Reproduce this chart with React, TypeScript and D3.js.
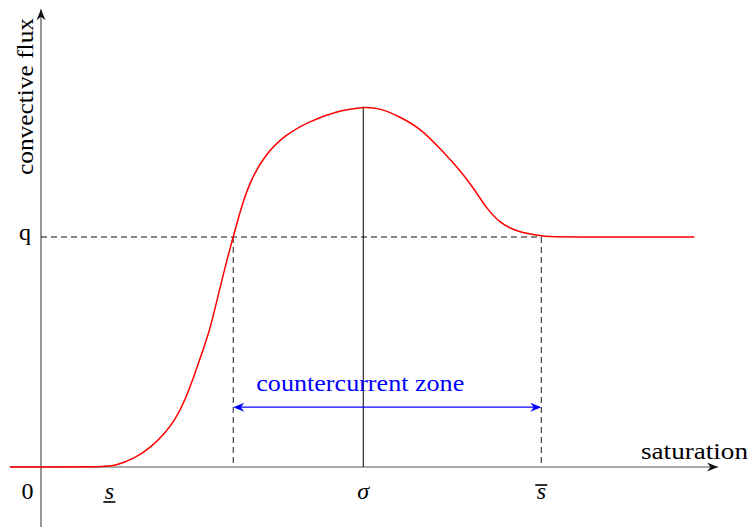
import React, { useEffect, useRef } from 'react';
import * as d3 from 'd3';

// convective flux curve (saturation in %, flux in units of q)
const satValues = [-4.6, 8.6, 10.9, 13.9, 16.35, 18.3, 19.8, 21.3, 22.75, 23.75, 24.95, 26.0, 27.45, 28.4, 29.65, 31.1, 33.1, 36.0, 39.5, 43.4, 47.6, 50.1, 53.0, 56.0, 58.9, 61.9, 63.9, 65.8, 67.8, 70.3, 73.7, 75.2, 77.1, 96.5];
const fluxValues = [0, 0, 0.004, 0.038, 0.088, 0.147, 0.204, 0.291, 0.407, 0.494, 0.596, 0.726, 0.9, 1.0, 1.139, 1.255, 1.357, 1.443, 1.501, 1.545, 1.567, 1.56, 1.523, 1.473, 1.386, 1.291, 1.212, 1.125, 1.06, 1.023, 1.006, 1.001, 1.0, 1.0];

const qLevel = 1;
const sLow = 10.1;
const sigma = 47.6;
const sLeft = 28.4;
const sHigh = 73.9;
const peakFlux = 1.567;
const zoneFlux = 0.26;

const tickNames = ['0', 's', 'σ', 's'];
const tickVals = [0, sLow, sigma, sHigh];

const W = 749;
const H = 527;
const FONT = "'Liberation Serif', 'DejaVu Serif', 'Times New Roman', serif";

function App() {
    const ref = useRef<SVGSVGElement>(null);

    useEffect(() => {
        const svg = d3.select(ref.current);
        svg.selectAll("*").remove();

        const x = d3.scaleLinear().domain([0, 100]).range([41, 718]);
        const y = d3.scaleLinear().domain([0, 2]).range([467, 7]);

        const arrowHead = (g, tx, ty, angle, color) => {
            g.append("path")
                .attr("d", "M0,0 L-11,-4.5 L-7.5,0 L-11,4.5 Z")
                .attr("fill", color)
                .attr("transform", `translate(${tx},${ty}) rotate(${angle})`);
        };

        const label = (txt, size) => svg.append("text")
            .style("font-family", FONT)
            .style("font-size", `${size}px`)
            .text(txt);

        // axes
        svg.append("line")
            .attr("x1", x(-4.6)).attr("x2", x(100))
            .attr("y1", y(0)).attr("y2", y(0))
            .attr("stroke", "#555").attr("stroke-width", 1.2);
        arrowHead(svg, x(100), y(0), 0, "#111");

        svg.append("line")
            .attr("x1", x(0)).attr("x2", x(0))
            .attr("y1", y(-0.27)).attr("y2", y(1.99))
            .attr("stroke", "#555").attr("stroke-width", 1.2);
        arrowHead(svg, x(0), y(1.99), -90, "#111");

        // guide lines
        const dash = "6,4";
        svg.append("line")
            .attr("x1", x(0)).attr("x2", x(sHigh))
            .attr("y1", y(qLevel)).attr("y2", y(qLevel))
            .attr("stroke", "#111").attr("stroke-dasharray", dash);
        [sLeft, sHigh].forEach(s => {
            svg.append("line")
                .attr("x1", x(s)).attr("x2", x(s))
                .attr("y1", y(qLevel)).attr("y2", y(0))
                .attr("stroke", "#333").attr("stroke-width", 1.1)
                .attr("stroke-dasharray", dash);
        });
        svg.append("line")
            .attr("x1", x(sigma)).attr("x2", x(sigma))
            .attr("y1", y(peakFlux)).attr("y2", y(0))
            .attr("stroke", "#000").attr("stroke-width", 1);

        // flux curve
        const line = d3.line<number>()
            .x((d, i) => x(satValues[i]))
            .y(d => y(d))
            .curve(d3.curveBasis);
        svg.append("path")
            .attr("d", line(fluxValues))
            .attr("fill", "none")
            .attr("stroke", "#ff0000")
            .attr("stroke-width", 1.5);

        // countercurrent zone arrow
        const blue = "#0000ff";
        svg.append("line")
            .attr("x1", x(sLeft) + 4).attr("x2", x(sHigh) - 4)
            .attr("y1", y(zoneFlux)).attr("y2", y(zoneFlux))
            .attr("stroke", blue).attr("stroke-width", 1.2);
        arrowHead(svg, x(sLeft), y(zoneFlux), 180, blue);
        arrowHead(svg, x(sHigh), y(zoneFlux), 0, blue);
        label("countercurrent zone", 23)
            .attr("x", x(sLeft) + 23)
            .attr("y", y(zoneFlux) - 16)
            .attr("fill", blue)
            .attr("textLength", 208)
            .attr("lengthAdjust", "spacingAndGlyphs");

        // tick labels on the saturation axis
        tickVals.forEach((v, i) => {
            label(tickNames[i], 24)
                .attr("x", i === 0 ? x(v) - 13.5 : x(v))
                .attr("y", y(0) + 32)
                .attr("text-anchor", "middle")
                .style("font-style", i === 0 ? "normal" : "italic");
        });
        svg.append("line")
            .attr("x1", x(sLow) - 6).attr("x2", x(sLow) + 6)
            .attr("y1", y(0) + 35).attr("y2", y(0) + 35)
            .attr("stroke", "#000").attr("stroke-width", 1.6);
        svg.append("line")
            .attr("x1", x(sHigh) - 6).attr("x2", x(sHigh) + 6)
            .attr("y1", y(0) + 18).attr("y2", y(0) + 18)
            .attr("stroke", "#000").attr("stroke-width", 1.6);

        // q label
        label("q", 24)
            .attr("x", x(0) - 16)
            .attr("y", y(qLevel) + 3)
            .attr("text-anchor", "middle");

        // axis titles
        label("saturation", 23)
            .attr("x", W - 108)
            .attr("y", y(0) - 8)
            .attr("textLength", 107)
            .attr("lengthAdjust", "spacingAndGlyphs");

        label("convective flux", 23)
            .attr("transform", `translate(${x(0) - 8},${175}) rotate(-90)`)
            .attr("textLength", 157)
            .attr("lengthAdjust", "spacingAndGlyphs");
    }, []);

    return (
        <svg ref={ref} width={W} height={H}
            style={{ position: 'absolute', left: 0, top: 0, background: '#fff' }} />
    );
}

export default App;
